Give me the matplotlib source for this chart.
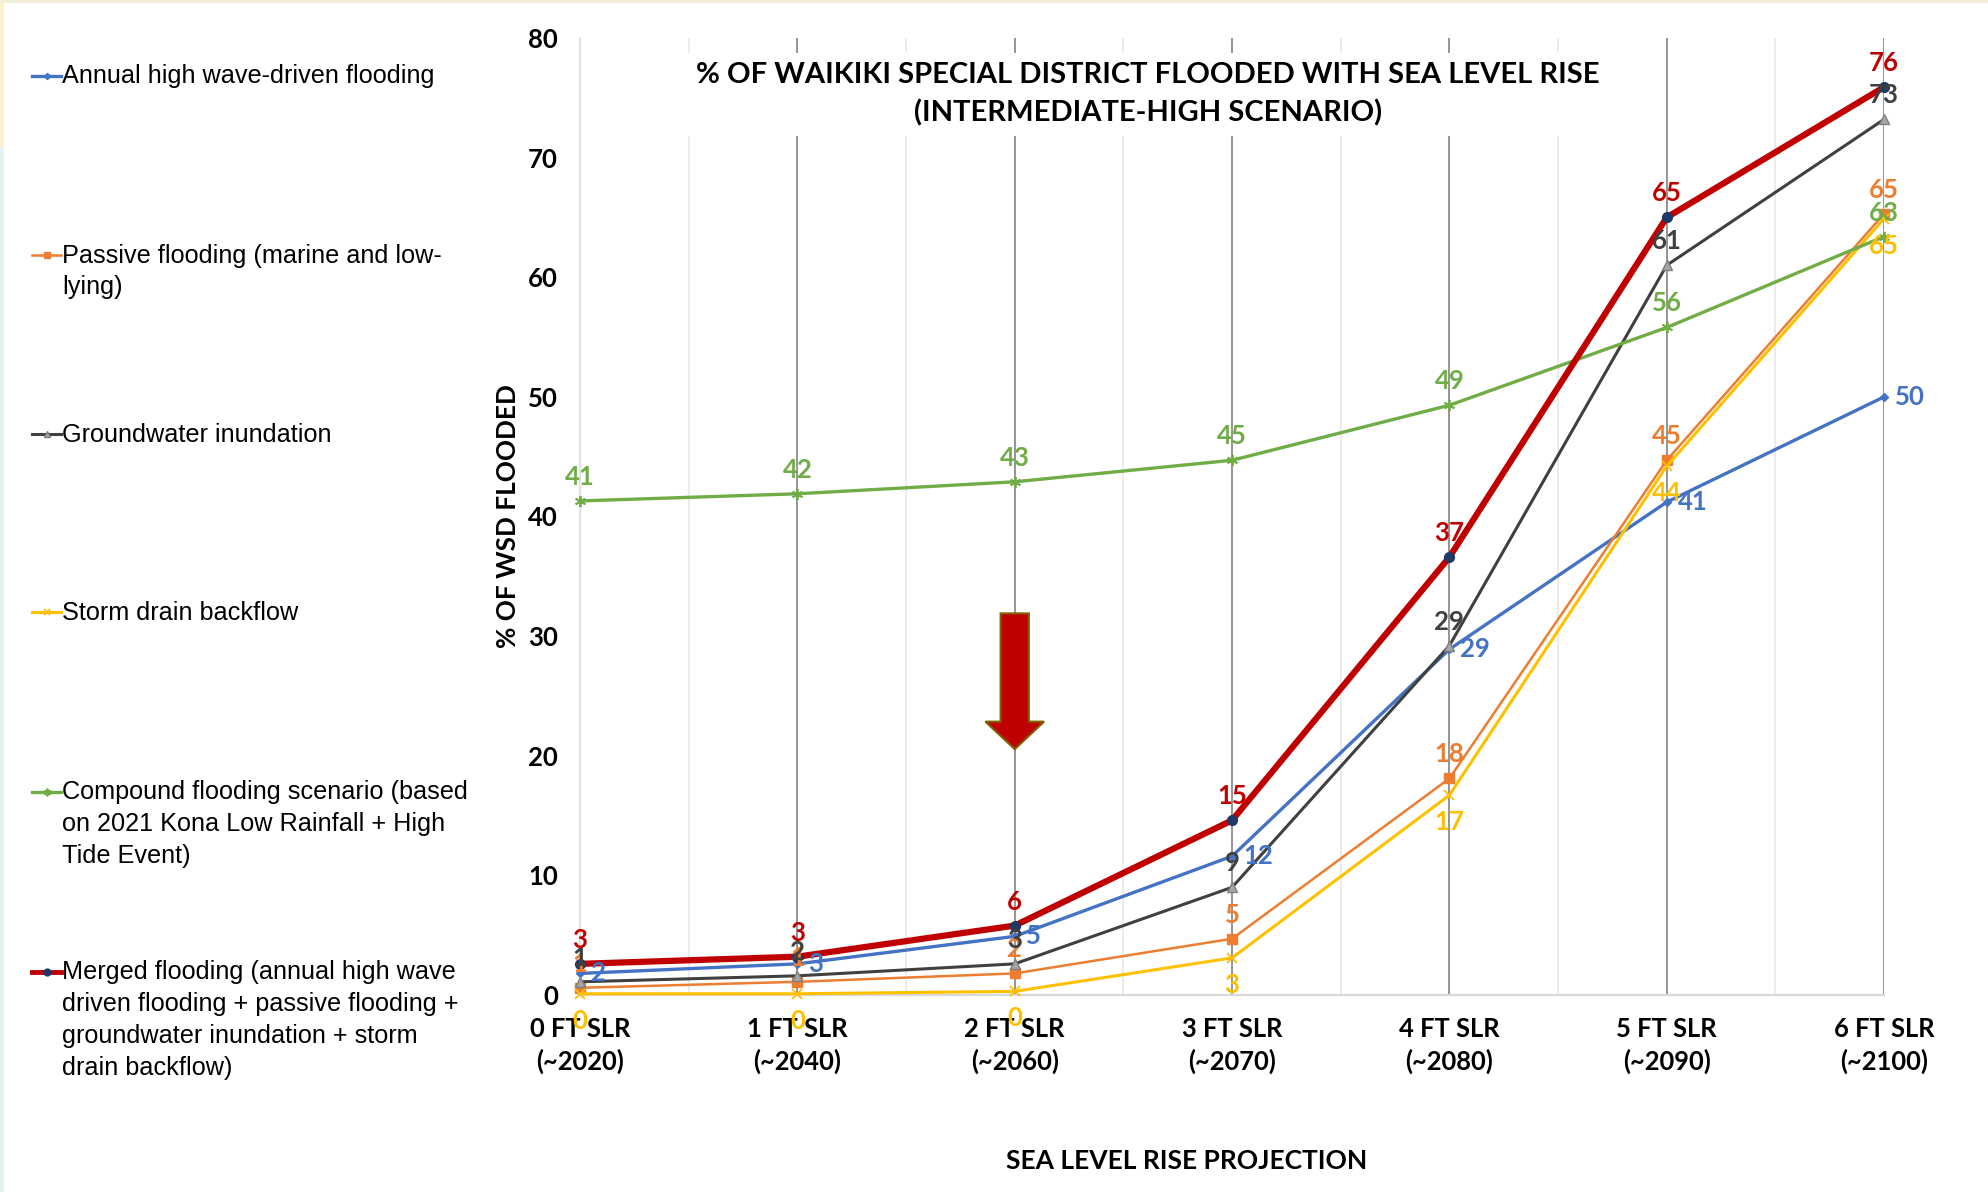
import numpy as np
import matplotlib
matplotlib.use("Agg")
import matplotlib.pyplot as plt
from matplotlib.lines import Line2D
from matplotlib.patches import FancyArrow, Rectangle

# categories on the x axis
categories = ["0 FT SLR\n(~2020)", "1 FT SLR\n(~2040)", "2 FT SLR\n(~2060)", "3 FT SLR\n(~2070)",
              "4 FT SLR\n(~2080)", "5 FT SLR\n(~2090)", "6 FT SLR\n(~2100)"]

# % of WSD flooded
wave_driven = [1.8, 2.6, 4.9, 11.6, 28.9, 41.2, 50.0]
passive = [0.6, 1.1, 1.8, 4.7, 18.1, 44.7, 65.3]
groundwater = [1.1, 1.6, 2.6, 9.0, 29.2, 61.0, 73.2]
storm_drain = [0.1, 0.1, 0.3, 3.1, 16.7, 44.2, 64.9]
compound = [41.3, 41.9, 42.9, 44.7, 49.3, 55.8, 63.4]
merged = [2.6, 3.2, 5.8, 14.6, 36.6, 65.0, 75.9]

names = ["Annual high wave-driven flooding",
         "Passive flooding (marine and low-\nlying)",
         "Groundwater inundation",
         "Storm drain backflow",
         "Compound flooding scenario (based\non 2021 Kona Low Rainfall + High\nTide Event)",
         "Merged flooding (annual high wave\ndriven flooding + passive flooding +\ngroundwater inundation + storm\ndrain backflow)"]

plt.rcParams['font.family'] = ['Lato', 'DejaVu Sans']

fig = plt.figure(figsize=(19.88, 11.92), dpi=100)
ax = fig.add_axes([0.2918, 0.1653, 0.6559, 0.8028])
x = np.arange(len(categories))

styles = [
    dict(color="#4472C4", lw=2.4, marker="D", ms=4.5, mfc="#4472C4", mec="#4472C4"),
    dict(color="#ED7D31", lw=1.8, marker="s", ms=7, mfc="#ED7D31", mec="#ED7D31"),
    dict(color="#404040", lw=2.2, marker="^", ms=7, mfc="#A6A6A6", mec="#7F7F7F"),
    dict(color="#FFC000", lw=2.2, marker="x", ms=7, mew=1.3, mec="#FFC000"),
    dict(color="#70AD47", lw=2.4, marker=(6, 2, 0), ms=8, mew=1.3, mec="#70AD47"),
    dict(color="#C00000", lw=4.5, marker="o", ms=7, mfc="#1F3864", mec="#1F3864"),
]
label_pos = ["right", "above", "above", "below", "above", "above"]
label_col = ["#4472C4", "#ED7D31", "#404040", "#FFC000", "#70AD47", "#C00000"]
all_series = [wave_driven, passive, groundwater, storm_drain, compound, merged]

for vals, st in zip(all_series, styles):
    ax.plot(x, vals, clip_on=False, zorder=3, **st)

for vals, pos, col in zip(all_series, label_pos, label_col):
    for xi, v in zip(x, vals):
        if pos == "above":
            off, ha, va = (0, 24), "center", "center"
        elif pos == "below":
            off, ha, va = (0, -27), "center", "center"
        else:
            off, ha, va = (11, 0), "left", "center"
        ax.annotate(f"{v:.0f}", (xi, v), xytext=off, textcoords="offset pixels",
                    ha=ha, va=va, fontsize=18.5, fontweight="bold", color=col,
                    zorder=4, annotation_clip=False)

# red arrow pointing at 2 FT
ax.add_patch(FancyArrow(2, 31.9, 0, -11.35, width=0.13, head_width=0.27, head_length=2.3,
                        length_includes_head=True, fc="#C00000", ec="#7F6000", lw=1.5, zorder=5))

ax.set_xlim(0, 6)
ax.set_ylim(0, 80)
ax.set_xticks(x)
ax.set_xticklabels(categories, fontsize=18.4, fontweight="bold", linespacing=1.35)
ax.set_xticks(x[:-1] + 0.5, minor=True)
ax.set_yticks(range(0, 81, 10))
for t in ax.get_yticklabels():
    t.set_fontweight("bold")
    t.set_fontsize(18.5)
ax.tick_params(axis="x", which="both", length=0, pad=16)
ax.tick_params(axis="y", length=0, pad=16)
ax.grid(axis="x", which="major", color="#8C8C8C", lw=1.3)
ax.grid(axis="x", which="minor", color="#EBEBEB", lw=1.3)
ax.set_axisbelow(True)
for s in ["top", "right"]:
    ax.spines[s].set_visible(False)
ax.spines["left"].set_color("#E3E3E3")
ax.spines["left"].set_linewidth(1.6)
ax.spines["bottom"].set_color("#D9D9D9")
ax.spines["bottom"].set_linewidth(1.6)

ax.set_ylabel("% OF WSD FLOODED", fontsize=18.8, fontweight="bold", va="center")
ax.yaxis.set_label_coords(-0.055, 0.5)
ax.set_xlabel("SEA LEVEL RISE PROJECTION", fontsize=19, fontweight="bold", va="center")
ax.xaxis.set_label_coords(0.4655, -0.173)

ax.text(0.4356, 0.941, "% OF WAIKIKI SPECIAL DISTRICT FLOODED WITH SEA LEVEL RISE\n(INTERMEDIATE-HIGH SCENARIO)",
        transform=ax.transAxes, ha="center", va="center", fontsize=21, fontweight="bold",
        linespacing=1.5, bbox=dict(fc="white", ec="none", pad=7), zorder=1)

# legend on the left, handle beside the first line of each entry
W, H = 1988, 1192
first_line = [76, 255, 434, 612, 792, 972]
for name, st, yc in zip(names, styles, first_line):
    yf = 1 - yc / H
    fig.add_artist(Line2D([32 / W, 61 / W], [yf, yf], transform=fig.transFigure,
                          color=st["color"], lw=min(st["lw"], 3.5)))
    fig.add_artist(Line2D([46.5 / W], [yf], transform=fig.transFigure, ls="none",
                          marker=st["marker"], ms=st["ms"] * 0.7,
                          mfc=st.get("mfc", st["color"]), mec=st.get("mec", st["color"]),
                          mew=st.get("mew", 1)))
    fig.text(62 / W, 1 - (yc - 11.5) / H, name, ha="left", va="top", fontsize=18.2,
             family="Liberation Sans", linespacing=1.41)

# thin page border bits
fig.add_artist(Rectangle((0, 1 - 147 / H), 4 / W, 147 / H, transform=fig.transFigure,
                         fc="#FBF3D0", ec="none"))
fig.add_artist(Rectangle((0, 0), 4 / W, 1 - 147 / H, transform=fig.transFigure,
                         fc="#E4F2F2", ec="none"))
fig.add_artist(Rectangle((0, 1 - 3 / H), 1, 3 / H, transform=fig.transFigure,
                         fc="#F4EFD8", ec="none"))

fig.savefig("out.png", dpi=100)
